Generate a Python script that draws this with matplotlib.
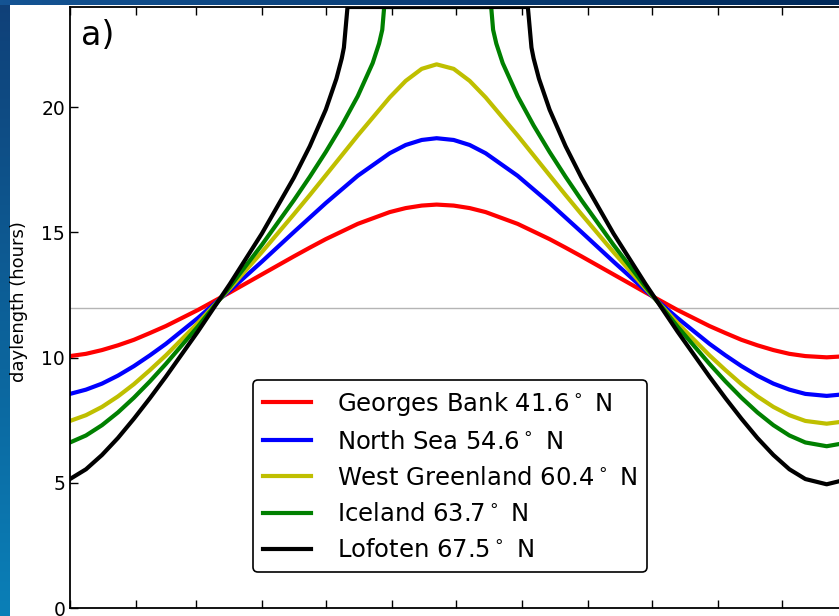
import numpy as np
import matplotlib
matplotlib.use("Agg")
import matplotlib.pyplot as plt

# day of year for the sampled points (shared by the three southern sites)
days = [0, 7.5, 15, 22.5, 30, 37.5, 45, 60, 75, 90, 105, 112.5, 120, 135,
        150, 157.5, 165, 172, 180, 187.5, 195, 210, 225, 232.5, 240, 255,
        270, 285, 300, 307.5, 315, 322.5, 330, 337.5, 345, 355, 365]

georges_bank = [10.06, 10.15, 10.30, 10.49, 10.71, 10.98, 11.26, 11.90, 12.60,
                13.32, 14.04, 14.39, 14.73, 15.34, 15.81, 15.97, 16.07, 16.11,
                16.07, 15.97, 15.81, 15.34, 14.73, 14.39, 14.04, 13.32, 12.60,
                11.90, 11.26, 10.98, 10.71, 10.49, 10.30, 10.15, 10.06, 10.01,
                10.06]
north_sea = [8.55, 8.72, 8.96, 9.28, 9.66, 10.09, 10.55, 11.58, 12.68, 13.83,
             15.01, 15.59, 16.17, 17.26, 18.16, 18.49, 18.69, 18.76, 18.69,
             18.49, 18.16, 17.26, 16.17, 15.59, 15.01, 13.83, 12.68, 11.58,
             10.55, 10.09, 9.66, 9.28, 8.96, 8.72, 8.55, 8.47, 8.55]
west_greenland = [7.47, 7.70, 8.03, 8.45, 8.94, 9.50, 10.09, 11.38, 12.76,
                  14.21, 15.72, 16.49, 17.28, 18.87, 20.39, 21.05, 21.53,
                  21.71, 21.53, 21.05, 20.39, 18.87, 17.28, 16.49, 15.72,
                  14.21, 12.76, 11.38, 10.09, 9.50, 8.94, 8.45, 8.03, 7.70,
                  7.47, 7.36, 7.47]

# the two northern sites reach 24 h (midnight sun), sampled denser there
days_iceland = [0, 7.5, 15, 22.5, 30, 37.5, 45, 60, 75, 90, 105, 112.5, 120,
                127.5, 135, 142, 145, 146.5, 147.4, 172, 197.6, 198.5, 200,
                203, 210, 217.5, 225, 232.5, 240, 255, 270, 285, 300, 307.5,
                315, 322.5, 330, 337.5, 345, 355, 365]
iceland = [6.61, 6.89, 7.30, 7.81, 8.40, 9.05, 9.75, 11.24, 12.83, 14.50,
           16.28, 17.22, 18.21, 19.27, 20.44, 21.76, 22.54, 23.09, 24.0, 24.0,
           24.0, 23.09, 22.54, 21.76, 20.44, 19.27, 18.21, 17.22, 16.28,
           14.50, 12.83, 11.24, 9.75, 9.05, 8.40, 7.81, 7.30, 6.89, 6.61,
           6.46, 6.61]

days_lofoten = [0, 7.5, 15, 22.5, 30, 37.5, 45, 60, 75, 90, 105, 112.5, 120,
                125, 127.5, 128.5, 130.2, 172, 214.8, 216.5, 217.5, 220, 225,
                232.5, 240, 255, 270, 285, 300, 307.5, 315, 322.5, 330, 337.5,
                345, 355, 365]
lofoten = [5.15, 5.54, 6.11, 6.79, 7.56, 8.38, 9.24, 11.04, 12.94, 14.95,
           17.18, 18.44, 19.90, 21.14, 21.95, 22.38, 24.0, 24.0, 24.0, 22.38,
           21.95, 21.14, 19.90, 18.44, 17.18, 14.95, 12.94, 11.04, 9.24,
           8.38, 7.56, 6.79, 6.11, 5.54, 5.15, 4.94, 5.15]

labels = [r"Georges Bank 41.6$^\circ$ N", r"North Sea 54.6$^\circ$ N",
          r"West Greenland 60.4$^\circ$ N", r"Iceland 63.7$^\circ$ N",
          r"Lofoten 67.5$^\circ$ N"]
colors = ["r", "b", "y", "g", "k"]

# first day of each month (x ticks)
month_starts = [0, 31, 59, 90, 120, 151, 181, 212, 243, 273, 304, 334, 365]

W, H = 839, 616
fig = plt.figure(figsize=(W / 100., H / 100.), dpi=100)
fig.patch.set_facecolor("white")

# slide background strips (left and top edges)
bg = fig.add_axes([0, 0, 1, 1], zorder=-10)
bg.axis("off")
img = np.ones((H, W, 3))
t = np.linspace(0, 1, H)[:, None]
left_top = np.array([0.06, 0.25, 0.47])
left_bot = np.array([0.04, 0.50, 0.72])
img[:, :10, :] = (left_top + (left_bot - left_top) * t)[:, None, :]
s = np.linspace(0, 1, W)[:, None]
top_l = np.array([0.08, 0.33, 0.58])
top_r = np.array([0.0, 0.16, 0.35])
img[:5, :, :] = (top_l + (top_r - top_l) * s)[None, :, :]
bg.imshow(img, aspect="auto", extent=[0, 1, 0, 1])

ax = fig.add_axes([70. / W, 1 - 608. / H, 778. / W, 601. / H])

ax.axhline(12, color="#b5b5b5", lw=1, zorder=1)

series = [(days, georges_bank), (days, north_sea), (days, west_greenland),
          (days_iceland, iceland), (days_lofoten, lofoten)]
for (x, y), c, lab in zip(series, colors, labels):
    ax.plot(x, y, color=c, lw=3, label=lab, zorder=2)

ax.set_xlim(0, 365)
ax.set_ylim(0, 24)
ax.set_xticks(month_starts)
ax.set_yticks([0, 5, 10, 15, 20])
ax.tick_params(direction="in", top=True, right=True, length=6, width=1,
               labelsize=13.5, labelbottom=False)
for sp in ax.spines.values():
    sp.set_linewidth(1.3)

ax.set_ylabel("daylength (hours)", fontsize=13)
ax.yaxis.set_label_coords(-0.054, 0.51)

ax.text(0.014, 0.98, "a)", transform=ax.transAxes, fontsize=24,
        ha="left", va="top")

leg = ax.legend(loc="lower center", bbox_to_anchor=(0.4884, 0.06),
                borderaxespad=0, fontsize=17.5, fancybox=True,
                framealpha=1, edgecolor="black", handlelength=2,
                handletextpad=1.05)
leg.get_frame().set_linewidth(1.2)

fig.savefig("out.png", dpi=100)
